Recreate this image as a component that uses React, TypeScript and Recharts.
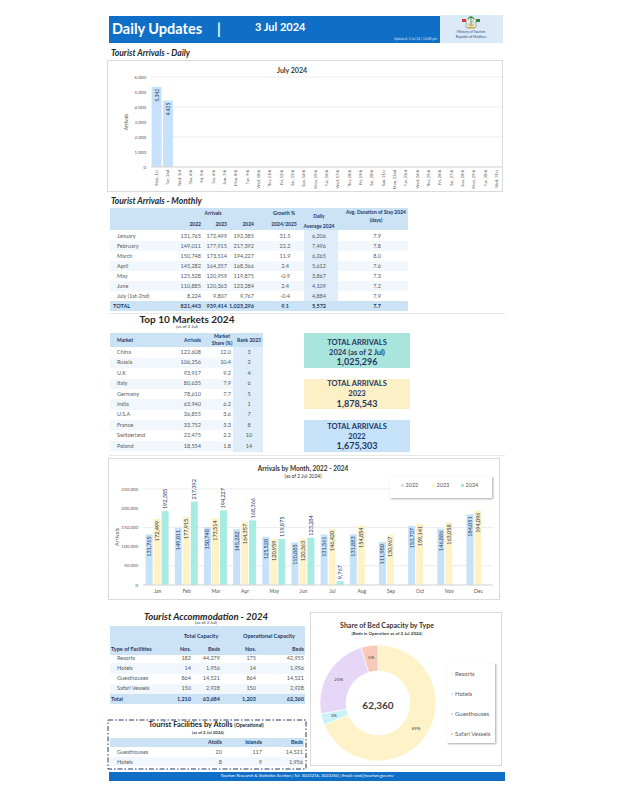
import React from 'react';
import {
  BarChart,
  Bar,
  XAxis,
  YAxis,
  CartesianGrid,
  LabelList,
  PieChart,
  Pie,
  Cell,
} from 'recharts';

const FONT = 'Lato, "Liberation Sans", sans-serif';
const NAVY = '#1f3864';
const GREY = '#595959';
const HEAD_BG = '#cce3f6';
const SOFT_BG = '#deedf9';
const ROW_BG = '#f1f7fd';

// Daily arrivals, July 2024 (only the first two days are in so far)
const days = [
  'Mon, 1st', 'Tue, 2nd', 'Wed, 3rd', 'Thu, 4th', 'Fri, 5th', 'Sat, 6th', 'Sun, 7th',
  'Mon, 8th', 'Tue, 9th', 'Wed, 10th', 'Thu, 11th', 'Fri, 12th', 'Sat, 13th', 'Sun, 14th',
  'Mon, 15th', 'Tue, 16th', 'Wed, 17th', 'Thu, 18th', 'Fri, 19th', 'Sat, 20th', 'Sun, 21st',
  'Mon, 22nd', 'Tue, 23rd', 'Wed, 24th', 'Thu, 25th', 'Fri, 26th', 'Sat, 27th', 'Sun, 28th',
  'Mon, 29th', 'Tue, 30th', 'Wed, 31st',
];
const dailyArrivals = [5342, 4425];
const dailyTicks = [0, 1000, 2000, 3000, 4000, 5000, 6000];

// Arrivals by month for the bar chart
const months = ['Jan', 'Feb', 'Mar', 'Apr', 'May', 'Jun', 'Jul', 'Aug', 'Sep', 'Oct', 'Nov', 'Dec'];
const arrivals2022 = [131765, 149011, 150748, 145282, 125528, 110885, 131561, 131883, 111980, 153737, 146886, 184051];
const arrivals2023 = [172499, 177915, 173514, 164357, 120959, 120363, 146420, 154854, 130967, 159141, 163058, 194096];
const arrivals2024 = [192385, 217392, 194227, 168366, 119875, 123284, 9767];
const monthTicks = [0, 50000, 100000, 150000, 200000, 250000];

// Monthly table
const tableMonths = ['January', 'February', 'March', 'April', 'May', 'June', 'July (1st-2nd)'];
const table2022 = [131765, 149011, 150748, 145282, 125528, 110885, 8224];
const table2023 = [172499, 177915, 173514, 164357, 120959, 120363, 9807];
const table2024 = [192385, 217392, 194227, 168366, 119875, 123284, 9767];
const growth = ['31.5', '22.2', '11.9', '2.4', '-0.9', '2.4', '-0.4'];
const dailyAverage = [6206, 7496, 6265, 5612, 3867, 4109, 4884];
const stayDays = ['7.9', '7.8', '8.0', '7.6', '7.3', '7.2', '7.9'];
const totalGrowth = '9.1';
const totalDailyAverage = 5572;
const totalStay = '7.7';

// Top 10 markets
const markets = ['China', 'Russia', 'U.K', 'Italy', 'Germany', 'India', 'U.S.A', 'France', 'Switzerland', 'Poland'];
const marketArrivals = [122608, 106256, 93917, 80635, 78610, 63940, 36855, 33752, 22475, 18554];
const marketShare = ['12.0', '10.4', '9.2', '7.9', '7.7', '6.2', '3.6', '3.3', '2.2', '1.8'];
const rank2023 = [3, 2, 4, 6, 5, 1, 7, 8, 10, 14];

const total2024 = 1025296;
const total2023 = 1878543;
const total2022 = 1675303;

// Accommodation
const facilityTypes = ['Resorts', 'Hotels', 'Guesthouses', 'Safari Vessels'];
const totalNos = [182, 14, 864, 150];
const totalBeds = [44279, 1956, 14521, 2928];
const opNos = [175, 14, 864, 150];
const opBeds = [42955, 1956, 14521, 2928];
const pieColors = ['#fdf2c8', '#c9f3f8', '#e6d6f8', '#f8c8b8'];

const atollTypes = ['Guesthouses', 'Hotels'];
const atollCounts = [20, 8];
const islandCounts = [117, 9];
const atollBeds = [14521, 1956];

const fmt = (n: number) => n.toLocaleString('en-US');
const sum = (a: number[]) => a.reduce((s, v) => s + v, 0);

const dailyData = days.map((day, i) => ({ day, arrivals: dailyArrivals[i] ?? null }));
const monthData = months.map((m, i) => ({
  month: m,
  '2022': arrivals2022[i],
  '2023': arrivals2023[i],
  '2024': arrivals2024[i] ?? null,
}));
const pieData = facilityTypes.map((name, i) => ({ name, value: opBeds[i] }));

type TP = {
  x: number;
  y: number;
  s?: number;
  a?: 'l' | 'r' | 'c';
  b?: boolean;
  i?: boolean;
  c?: string;
  children: React.ReactNode;
};

// absolutely placed text, y is the vertical centre
function T({ x, y, s = 5.5, a = 'l', b, i, c = GREY, children }: TP) {
  const w = 240;
  const left = a === 'l' ? x : a === 'r' ? x - w : x - w / 2;
  return (
    <div
      style={{
        position: 'absolute',
        left,
        top: y - s,
        width: w,
        height: s * 2,
        lineHeight: `${s * 2}px`,
        fontSize: s,
        fontWeight: b ? 700 : 400,
        fontStyle: i ? 'italic' : 'normal',
        color: c,
        textAlign: a === 'l' ? 'left' : a === 'r' ? 'right' : 'center',
        whiteSpace: 'nowrap',
      }}
    >
      {children}
    </div>
  );
}

function Rect({ l, t, w, h, bg, border, shadow }: { l: number; t: number; w: number; h: number; bg?: string; border?: string; shadow?: boolean }) {
  return (
    <div
      style={{
        position: 'absolute',
        left: l,
        top: t,
        width: w,
        height: h,
        background: bg,
        border,
        boxSizing: 'border-box',
        boxShadow: shadow ? '1px 1px 2px rgba(0,0,0,0.35)' : undefined,
      }}
    />
  );
}

// rotated value label sitting just inside the top of a bar
const insideTopLabel = (size: number) => (p: any) => {
  const { x, y, width, value } = p;
  if (value == null) return null;
  const cx = Number(x) + Number(width) / 2;
  const ty = Number(y) + 2;
  return (
    <text x={cx} y={ty} transform={`rotate(-90 ${cx} ${ty})`} textAnchor="end" dominantBaseline="central" fontSize={size} fill={NAVY} fontFamily={FONT}>
      {fmt(value)}
    </text>
  );
};

// rotated value label above a bar
const aboveLabel = (p: any) => {
  const { x, y, width, value } = p;
  if (value == null) return null;
  const cx = Number(x) + Number(width) / 2;
  const ty = Number(y) - 2;
  return (
    <text x={cx} y={ty} transform={`rotate(-90 ${cx} ${ty})`} textAnchor="start" dominantBaseline="central" fontSize={5.5} fill={NAVY} fontFamily={FONT}>
      {fmt(value)}
    </text>
  );
};

const DayTick = (p: any) => {
  const { x, y, payload } = p;
  return (
    <text x={x} y={y} transform={`rotate(-90 ${x} ${y})`} textAnchor="end" dominantBaseline="central" fontSize={4} fill={GREY} fontFamily={FONT}>
      {payload.value}
    </text>
  );
};

const yLabel = (dx: number, size: number) => (p: any) => {
  const vb = p.viewBox || {};
  const x = (vb.x ?? 0) + dx;
  const y = (vb.y ?? 0) + (vb.height ?? 0) / 2;
  return (
    <text x={x} y={y} transform={`rotate(-90 ${x} ${y})`} textAnchor="middle" dominantBaseline="central" fontSize={size} fill={GREY} fontFamily={FONT}>
      Arrivals
    </text>
  );
};

function DailyChart() {
  return (
    <BarChart width={396} height={132} data={dailyData} margin={{ top: 17, right: 1, bottom: 0, left: 0 }} barCategoryGap={0.6}>
      <CartesianGrid vertical={false} stroke="#e4e4e4" strokeWidth={0.7} />
      <XAxis dataKey="day" interval={0} tick={DayTick} tickLine={false} tickSize={1} tickMargin={2} axisLine={{ stroke: '#d9d9d9' }} height={25} />
      <YAxis
        domain={[0, 6000]}
        ticks={dailyTicks}
        tickFormatter={fmt}
        width={44}
        tickLine={false}
        axisLine={false}
        tickSize={3}
        tickMargin={2}
        tick={{ fontSize: 4.5, fill: GREY, fontFamily: FONT }}
        label={yLabel(19, 5)}
      />
      <Bar dataKey="arrivals" fill="#c6e2fa" isAnimationActive={false}>
        <LabelList dataKey="arrivals" content={insideTopLabel(5)} />
      </Bar>
    </BarChart>
  );
}

function MonthChart() {
  return (
    <BarChart width={392} height={142} data={monthData} margin={{ top: 31, right: 7, bottom: 2, left: 0 }} barCategoryGap="9%" barGap={1}>
      <CartesianGrid vertical={false} stroke="#e4e4e4" strokeWidth={0.7} />
      <XAxis dataKey="month" tickLine={false} axisLine={{ stroke: '#d9d9d9' }} tickSize={2} tickMargin={2} height={13} tick={{ fontSize: 5, fill: GREY, fontFamily: FONT }} />
      <YAxis
        domain={[0, 250000]}
        ticks={monthTicks}
        tickFormatter={fmt}
        width={35}
        tickLine={false}
        axisLine={false}
        tickSize={3}
        tickMargin={2}
        tick={{ fontSize: 4.5, fill: GREY, fontFamily: FONT }}
        label={yLabel(9, 5.5)}
      />
      <Bar dataKey="2022" fill="#c6e2f9" isAnimationActive={false}>
        <LabelList dataKey="2022" content={insideTopLabel(5.5)} />
      </Bar>
      <Bar dataKey="2023" fill="#fef2c6" isAnimationActive={false}>
        <LabelList dataKey="2023" content={insideTopLabel(5.5)} />
      </Bar>
      <Bar dataKey="2024" fill="#a8ebe2" isAnimationActive={false}>
        <LabelList dataKey="2024" content={aboveLabel} />
      </Bar>
    </BarChart>
  );
}

const RAD = Math.PI / 180;
const pieLabel = (p: any) => {
  const { cx, cy, midAngle, innerRadius, outerRadius, percent } = p;
  const r = (innerRadius + outerRadius) / 2 + 1;
  const x = cx + r * Math.cos(-midAngle * RAD);
  const y = cy + r * Math.sin(-midAngle * RAD);
  return (
    <text x={x} y={y} textAnchor="middle" dominantBaseline="central" fontSize={4.5} fill="#404040" fontFamily={FONT}>
      {Math.round(percent * 100)}%
    </text>
  );
};

function BedPie() {
  return (
    <PieChart width={190} height={153} margin={{ top: 0, right: 0, bottom: 0, left: 0 }}>
      <Pie
        data={pieData}
        dataKey="value"
        cx={68}
        cy={91}
        innerRadius={32}
        outerRadius={58}
        startAngle={90}
        endAngle={-270}
        stroke="#fff"
        strokeWidth={0.6}
        label={pieLabel}
        labelLine={false}
        isAnimationActive={false}
      >
        {pieData.map((d, i) => (
          <Cell key={d.name} fill={pieColors[i]} />
        ))}
      </Pie>
    </PieChart>
  );
}

function Emblem() {
  return (
    <svg style={{ position: 'absolute', left: 460, top: 15 }} width={22} height={15} viewBox="0 0 22 15">
      <rect x={2} y={4} width={4} height={3} fill="#d23b3b" />
      <rect x={16} y={4} width={4} height={3} fill="#2f8a3b" />
      <line x1={6} y1={4} x2={6} y2={13} stroke="#7a6a3a" strokeWidth={0.5} />
      <line x1={16} y1={4} x2={16} y2={13} stroke="#7a6a3a" strokeWidth={0.5} />
      <path d="M11 1 C8 2 7 4 8 5 C9 3 10 3 11 3 C12 3 13 3 14 5 C15 4 14 2 11 1Z" fill="#3c8f3c" />
      <line x1={11} y1={3} x2={11} y2={11} stroke="#6b5a2b" strokeWidth={0.7} />
      <path d="M8 7 A3.2 3.2 0 1 0 14 7 A2.6 2.6 0 1 1 8 7Z" fill="#d7b233" />
      <circle cx={12.5} cy={6.5} r={0.7} fill="#d7b233" />
      <rect x={7} y={12} width={8} height={1.5} fill="#c9a640" />
    </svg>
  );
}

export default function App() {
  const rowsY = (start: number, step: number, n: number) => Array.from({ length: n }, (_, i) => start + i * step);
  const mY = rowsY(236, 10, 7);
  const kY = rowsY(352.5, 10.4, 10);
  const aY = rowsY(658, 10.3, 4);

  return (
    <div style={{ position: 'absolute', left: 0, top: 0, width: 618, height: 800, background: '#fff', fontFamily: FONT, overflow: 'hidden' }}>
      {/* header */}
      <Rect l={109} t={16} w={331} h={27} bg="#0f6fc6" />
      <Rect l={440} t={15} w={63} h={28} bg="#dce9f6" />
      <T x={112} y={28} s={14.5} b c="#fff">Daily Updates</T>
      <T x={217} y={28} s={14.5} b c="#fff">|</T>
      <T x={255} y={27} s={11} b c="#fff">3 Jul 2024</T>
      <T x={437} y={39} s={3.4} a="r" c="#cfe2f7">Updated: 3 Jul 24 | 12:48 pm</T>
      <Emblem />
      <T x={471} y={32.5} s={3.4} a="c" c="#2d4d7a">Ministry of Tourism</T>
      <T x={471} y={37} s={3.4} a="c" c="#2d4d7a">Republic of Maldives</T>

      {/* daily arrivals */}
      <T x={111} y={53} s={8.5} b i c="#262626">Tourist Arrivals - Daily</T>
      <Rect l={107} t={60} w={396} h={132} border="1px solid #dadada" />
      <div style={{ position: 'absolute', left: 107, top: 60 }}>
        <DailyChart />
      </div>
      <T x={292} y={70} s={7} a="c" b c="#404040">July 2024</T>

      {/* monthly table */}
      <T x={111} y={201} s={8.5} b i c="#262626">Tourist Arrivals - Monthly</T>
      <Rect l={110} t={208} w={298} h={22} bg={HEAD_BG} />
      {mY.map((y, i) => (i % 2 === 1 ? <Rect key={'mr' + i} l={110} t={y - 5} w={298} h={10} bg={ROW_BG} /> : null))}
      <Rect l={304} t={230} w={34} h={71} bg={SOFT_BG} />
      <Rect l={110} t={301} w={298} h={10} bg={HEAD_BG} />
      <T x={213} y={213} s={5} a="c" b c={NAVY}>Arrivals</T>
      <T x={201} y={224} s={5} a="r" b c={NAVY}>2022</T>
      <T x={227} y={224} s={5} a="r" b c={NAVY}>2023</T>
      <T x={254} y={224} s={5} a="r" b c={NAVY}>2024</T>
      <T x={284} y={213} s={5} a="c" b c={NAVY}>Growth %</T>
      <T x={284} y={224} s={5} a="c" b c={NAVY}>2024/2023</T>
      <T x={319} y={216} s={5} a="c" b c={NAVY}>Daily</T>
      <T x={319} y={226} s={5} a="c" b c={NAVY}>Average 2024</T>
      <T x={376} y={212} s={5} a="c" b c={NAVY}>Avg. Duration of Stay 2024</T>
      <T x={376} y={220} s={5} a="c" b c={NAVY}>(days)</T>
      {tableMonths.map((m, i) => (
        <React.Fragment key={m}>
          <T x={117} y={mY[i]}>{m}</T>
          <T x={201} y={mY[i]} a="r">{fmt(table2022[i])}</T>
          <T x={227} y={mY[i]} a="r">{fmt(table2023[i])}</T>
          <T x={254} y={mY[i]} a="r">{fmt(table2024[i])}</T>
          <T x={285} y={mY[i]} a="c">{growth[i]}</T>
          <T x={319} y={mY[i]} a="c">{fmt(dailyAverage[i])}</T>
          <T x={377} y={mY[i]} a="c">{stayDays[i]}</T>
        </React.Fragment>
      ))}
      <T x={113} y={306} b c={NAVY}>TOTAL</T>
      <T x={201} y={306} a="r" b c={NAVY}>{fmt(sum(table2022))}</T>
      <T x={227} y={306} a="r" b c={NAVY}>{fmt(sum(table2023))}</T>
      <T x={254} y={306} a="r" b c={NAVY}>{fmt(sum(table2024))}</T>
      <T x={285} y={306} a="c" b c={NAVY}>{totalGrowth}</T>
      <T x={319} y={306} a="c" b c={NAVY}>{fmt(totalDailyAverage)}</T>
      <T x={377} y={306} a="c" b c={NAVY}>{totalStay}</T>
      <Rect l={109} t={313} w={396} h={1} bg="#e8e8e8" />

      {/* top 10 markets */}
      <T x={187} y={319} s={10} a="c" b c="#262626">Top 10 Markets 2024</T>
      <T x={187} y={326.5} s={4.5} a="c" c="#404040">(as of 2 Jul)</T>
      <Rect l={110} t={333} w={153} h={14} bg={HEAD_BG} />
      {kY.map((y, i) => (i % 2 === 1 ? <Rect key={'kr' + i} l={110} t={y - 5.2} w={123} h={10.4} bg={ROW_BG} /> : null))}
      <Rect l={233} t={347} w={30} h={105} bg={SOFT_BG} />
      <T x={117} y={340} s={5} b c={NAVY}>Market</T>
      <T x={201} y={340} s={5} a="r" b c={NAVY}>Arrivals</T>
      <T x={222} y={336} s={5} a="c" b c={NAVY}>Market</T>
      <T x={222} y={343} s={5} a="c" b c={NAVY}>Share (%)</T>
      <T x={249} y={340} s={5} a="c" b c={NAVY}>Rank 2023</T>
      {markets.map((m, i) => (
        <React.Fragment key={m}>
          <T x={117} y={kY[i]}>{m}</T>
          <T x={201} y={kY[i]} a="r">{fmt(marketArrivals[i])}</T>
          <T x={231} y={kY[i]} a="r">{marketShare[i]}</T>
          <T x={249} y={kY[i]} a="c">{rank2023[i]}</T>
        </React.Fragment>
      ))}

      {/* totals */}
      <Rect l={304} t={333} w={106} h={35} bg="#aae5dd" />
      <T x={357} y={342} s={7.5} a="c" b c={NAVY}>TOTAL ARRIVALS</T>
      <T x={357} y={352} s={7.5} a="c" b c={NAVY}>2024 (as of 2 Jul)</T>
      <T x={357} y={362} s={9} a="c" b c={NAVY}>{fmt(total2024)}</T>
      <Rect l={304} t={379} w={106} h={30} bg="#fdf0c6" />
      <T x={357} y={383} s={7.5} a="c" b c={NAVY}>TOTAL ARRIVALS</T>
      <T x={357} y={393} s={7.5} a="c" b c={NAVY}>2023</T>
      <T x={357} y={404} s={9} a="c" b c={NAVY}>{fmt(total2023)}</T>
      <Rect l={304} t={420} w={106} h={32} bg="#c6e2f9" />
      <T x={357} y={426} s={7.5} a="c" b c={NAVY}>TOTAL ARRIVALS</T>
      <T x={357} y={436} s={7.5} a="c" b c={NAVY}>2022</T>
      <T x={357} y={446} s={9} a="c" b c={NAVY}>{fmt(total2022)}</T>
      <Rect l={109} t={455} w={396} h={1} bg="#e8e8e8" />

      {/* arrivals by month */}
      <Rect l={108} t={458} w={392} h={142} border="1px solid #dadada" />
      <div style={{ position: 'absolute', left: 108, top: 458 }}>
        <MonthChart />
      </div>
      <T x={303} y={468} s={6.5} a="c" b c="#333">Arrivals by Month, 2022 - 2024</T>
      <T x={303} y={476} s={5} a="c" c="#333">(as of 2 Jul 2024)</T>
      <Rect l={390} t={476} w={102} h={22} bg="#fff" shadow />
      {[
        { k: '2022', c: '#c6e2f9', x: 401 },
        { k: '2023', c: '#fef2c6', x: 432 },
        { k: '2024', c: '#a8ebe2', x: 461 },
      ].map((it) => (
        <React.Fragment key={it.k}>
          <Rect l={it.x} t={484} w={2.5} h={2.5} bg={it.c} />
          <T x={it.x + 4.5} y={485.5} s={5.5}>{it.k}</T>
        </React.Fragment>
      ))}

      {/* accommodation */}
      <T x={206} y={616} s={9.5} a="c" b i c="#262626">Tourist Accommodation - 2024</T>
      <T x={206} y={622.5} s={4.5} a="c" c="#404040">(as of 2 Jul)</T>
      <Rect l={110} t={626} w={195} h={29} bg={HEAD_BG} />
      {aY.map((y, i) => (i % 2 === 1 ? <Rect key={'ar' + i} l={110} t={y - 5} w={195} h={10.3} bg={ROW_BG} /> : null))}
      <Rect l={110} t={694} w={195} h={10} bg={HEAD_BG} />
      <T x={201} y={636} s={5.5} a="c" b c={NAVY}>Total Capacity</T>
      <T x={269} y={636} s={5.5} a="c" b c={NAVY}>Operational Capacity</T>
      <T x={111} y={649} s={5.5} b c={NAVY}>Type of Facilities</T>
      <T x={191} y={649} s={5.5} a="r" b c={NAVY}>Nos.</T>
      <T x={220} y={649} s={5.5} a="r" b c={NAVY}>Beds</T>
      <T x={256} y={649} s={5.5} a="r" b c={NAVY}>Nos.</T>
      <T x={304} y={649} s={5.5} a="r" b c={NAVY}>Beds</T>
      {facilityTypes.map((f, i) => (
        <React.Fragment key={f}>
          <T x={117} y={aY[i]}>{f}</T>
          <T x={191} y={aY[i]} a="r">{totalNos[i]}</T>
          <T x={220} y={aY[i]} a="r">{fmt(totalBeds[i])}</T>
          <T x={256} y={aY[i]} a="r">{opNos[i]}</T>
          <T x={304} y={aY[i]} a="r">{fmt(opBeds[i])}</T>
        </React.Fragment>
      ))}
      <T x={111} y={699} b c={NAVY}>Total</T>
      <T x={191} y={699} a="r" b c={NAVY}>{fmt(sum(totalNos))}</T>
      <T x={220} y={699} a="r" b c={NAVY}>{fmt(sum(totalBeds))}</T>
      <T x={256} y={699} a="r" b c={NAVY}>{fmt(sum(opNos))}</T>
      <T x={304} y={699} a="r" b c={NAVY}>{fmt(sum(opBeds))}</T>

      {/* facilities by atolls */}
      <Rect l={110} t={738} w={194} h={9} bg={HEAD_BG} />
      <Rect l={110} t={757} w={194} h={9} bg={ROW_BG} />
      <svg style={{ position: 'absolute', left: 107, top: 719 }} width={200} height={51}>
        <rect x={1} y={1} width={198} height={49} fill="none" stroke={NAVY} strokeWidth={1} strokeDasharray="5 2 1.5 2" />
      </svg>
      <div style={{ position: 'absolute', left: 108, top: 720.5, width: 196, textAlign: 'center', whiteSpace: 'nowrap', color: '#262626', fontWeight: 700, fontSize: 7.5, lineHeight: '7px', height: 7 }}>
        <span>Tourist Facilities by Atolls </span>
        <span style={{ fontSize: 5 }}>(Operational)</span>
      </div>
      <T x={208} y={733} s={4.3} a="c" b c="#404040">(as of 2 Jul 2024)</T>
      <T x={222} y={742.5} s={5.5} a="r" b c={NAVY}>Atolls</T>
      <T x={262} y={742.5} s={5.5} a="r" b c={NAVY}>Islands</T>
      <T x={303} y={742.5} s={5.5} a="r" b c={NAVY}>Beds</T>
      {atollTypes.map((f, i) => (
        <React.Fragment key={f}>
          <T x={117} y={752.5 + i * 9.5}>{f}</T>
          <T x={222} y={752.5 + i * 9.5} a="r">{atollCounts[i]}</T>
          <T x={262} y={752.5 + i * 9.5} a="r">{islandCounts[i]}</T>
          <T x={303} y={752.5 + i * 9.5} a="r">{fmt(atollBeds[i])}</T>
        </React.Fragment>
      ))}

      {/* bed capacity donut */}
      <Rect l={310} t={612} w={192} h={154} border="1px solid #dadada" />
      <div style={{ position: 'absolute', left: 310, top: 612 }}>
        <BedPie />
      </div>
      <T x={387} y={625} s={7} a="c" b c="#333">Share of Bed Capacity by Type</T>
      <T x={387} y={633} s={4.5} a="c" b c="#404040">(Beds in Operation as of 2 Jul 2024)</T>
      <T x={378} y={705} s={10} a="c" b c="#404040">{fmt(sum(opBeds))}</T>
      <Rect l={447} t={663} w={48} h={80} bg="#fff" shadow />
      {facilityTypes.map((f, i) => (
        <React.Fragment key={'lg' + f}>
          <Rect l={450.5} t={672.8 + i * 20} w={2.5} h={2.5} bg={pieColors[i]} />
          <T x={455} y={674 + i * 20} s={6}>{f}</T>
        </React.Fragment>
      ))}

      {/* footer */}
      <Rect l={109} t={772} w={396} h={9} bg="#0f6fc6" />
      <T x={307} y={776.5} s={4.3} a="c" c="#fff">Tourism Research &amp; Statistics Section | Tel: 3022216, 3022250 | Email: stat@tourism.gov.mv</T>
    </div>
  );
}
